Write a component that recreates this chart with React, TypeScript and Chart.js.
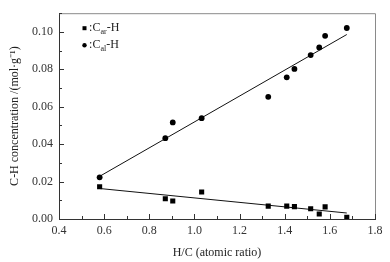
import React, { useEffect, useRef } from "react";
import { Chart, registerables } from "chart.js";

Chart.register(...registerables);

const hcRatio = [0.58, 0.871, 0.904, 1.032, 1.327, 1.409, 1.443, 1.515, 1.553, 1.579, 1.675];
const carH = [0.0172, 0.0108, 0.0096, 0.0144, 0.0069, 0.0069, 0.0066, 0.0055, 0.0027, 0.0065, 0.0009];
const calH = [0.0223, 0.0432, 0.0516, 0.0539, 0.0653, 0.0757, 0.0802, 0.0876, 0.0917, 0.0979, 0.1021];
const fitX = [0.58, 1.675];
const carFit = [0.0163, 0.0032];
const calFit = [0.0228, 0.0986];
const legendLabels = [
  { sub: "ar", style: "rect" },
  { sub: "al", style: "circle" },
];
const xTitle = "H/C (atomic ratio)";
const yTitle = "C-H concentration /(mol·g⁻¹)";

const SERIF = "'Liberation Serif', 'Times New Roman', serif";

const framePlugin = {
  id: "frame",
  afterDraw(chart: any) {
    const { ctx, chartArea, scales } = chart;
    const { left, right, top, bottom } = chartArea;
    ctx.save();
    ctx.strokeStyle = "#8a8a8a";
    ctx.lineWidth = 1;
    ctx.beginPath();
    ctx.moveTo(left, top + 0.5);
    ctx.lineTo(right + 0.5, top + 0.5);
    ctx.lineTo(right + 0.5, bottom);
    ctx.stroke();

    // inward ticks
    ctx.strokeStyle = "#333";
    ctx.beginPath();
    scales.x.ticks.forEach((t: any) => {
      const major = Math.round(t.value * 10) % 2 === 0;
      const len = major ? 5 : 3;
      const px = Math.round(scales.x.getPixelForValue(t.value)) + 0.5;
      ctx.moveTo(px, bottom);
      ctx.lineTo(px, bottom - len);
    });
    scales.y.ticks.forEach((t: any) => {
      const major = Math.round(t.value * 100) % 2 === 0;
      const len = major ? 5 : 3;
      const py = Math.round(scales.y.getPixelForValue(t.value)) + 0.5;
      ctx.moveTo(left, py);
      ctx.lineTo(left + len, py);
    });
    ctx.stroke();

    // legend
    const lx = left + 25.5;
    const ly = [top + 15, top + 32];
    legendLabels.forEach((l, i) => {
      const y = ly[i];
      ctx.fillStyle = "#000";
      if (l.style === "rect") {
        ctx.fillRect(lx - 2, y - 2, 4, 4);
      } else {
        ctx.beginPath();
        ctx.arc(lx, y, 2.2, 0, Math.PI * 2);
        ctx.fill();
      }
      ctx.fillStyle = "#222";
      ctx.textBaseline = "middle";
      ctx.textAlign = "left";
      ctx.font = `12px ${SERIF}`;
      ctx.fillText(":", lx + 4.5, y);
      let x = lx + 8;
      ctx.fillText("C", x, y);
      x += ctx.measureText("C").width;
      ctx.font = `8px ${SERIF}`;
      ctx.fillText(l.sub, x, y + 4);
      x += ctx.measureText(l.sub).width;
      ctx.font = `12px ${SERIF}`;
      ctx.fillText("-H", x, y);
    });
    ctx.restore();
  },
};

export default function App() {
  const ref = useRef<HTMLCanvasElement>(null);
  useEffect(() => {
    document.body.style.margin = "0";
    const ctx = ref.current!.getContext("2d")!;
    const scatterPts = (ys: number[]) => hcRatio.map((x, i) => ({ x, y: ys[i] }));
    const fitPts = (ys: number[]) => fitX.map((x, i) => ({ x, y: ys[i] }));
    const chart = new Chart(ctx, {
      type: "scatter",
      data: {
        datasets: [
          {
            label: "Car-H",
            data: scatterPts(carH),
            pointStyle: "rect",
            pointRadius: 3.6,
            backgroundColor: "#000",
            borderColor: "#000",
            borderWidth: 0,
          },
          {
            label: "Cal-H",
            data: scatterPts(calH),
            pointStyle: "circle",
            pointRadius: 2.9,
            backgroundColor: "#000",
            borderColor: "#000",
            borderWidth: 0,
          },
          {
            type: "line",
            label: "fit ar",
            data: fitPts(carFit),
            borderColor: "#111",
            borderWidth: 1,
            pointRadius: 0,
            showLine: true,
            fill: false,
          },
          {
            type: "line",
            label: "fit al",
            data: fitPts(calFit),
            borderColor: "#111",
            borderWidth: 1,
            pointRadius: 0,
            showLine: true,
            fill: false,
          },
        ] as any,
      },
      options: {
        animation: false,
        responsive: false,
        maintainAspectRatio: false,
        layout: { padding: { left: 0, right: 15, top: 11, bottom: 0 } },
        plugins: { legend: { display: false }, tooltip: { enabled: false } },
        scales: {
          x: {
            type: "linear",
            min: 0.4,
            max: 1.8,
            afterFit: (s: any) => {
              s.height = 43;
            },
            ticks: {
              stepSize: 0.1,
              autoSkip: false,
              maxRotation: 0,
              padding: 5,
              color: "#333",
              font: { family: SERIF, size: 12 },
              callback: (v: any) => (Math.round(Number(v) * 10) % 2 === 0 ? Number(v).toFixed(1) : ""),
            },
            grid: { drawOnChartArea: false, drawTicks: false },
            border: { color: "#333", width: 1 },
            title: {
              display: true,
              text: xTitle,
              color: "#222",
              font: { family: SERIF, size: 12 },
              padding: { top: 0, bottom: 2 },
            },
          },
          y: {
            type: "linear",
            min: 0,
            max: 0.11,
            afterFit: (s: any) => {
              s.width = 59;
            },
            ticks: {
              stepSize: 0.01,
              autoSkip: false,
              padding: 6,
              color: "#333",
              font: { family: SERIF, size: 12 },
              callback: (v: any) => {
                const n = Math.round(Number(v) * 100);
                return n % 2 === 0 && n <= 10 ? (n / 100).toFixed(2) : "";
              },
            },
            grid: { drawOnChartArea: false, drawTicks: false },
            border: { color: "#333", width: 1 },
            title: {
              display: true,
              text: yTitle,
              color: "#222",
              font: { family: SERIF, size: 12 },
              padding: { top: 8, bottom: 0 },
            },
          },
        },
      },
      plugins: [framePlugin],
    });
    return () => chart.destroy();
  }, []);
  return (
    <div style={{ width: 390, height: 262, background: "#fff" }}>
      <canvas ref={ref} width={390} height={262} style={{ display: "block" }} />
    </div>
  );
}
